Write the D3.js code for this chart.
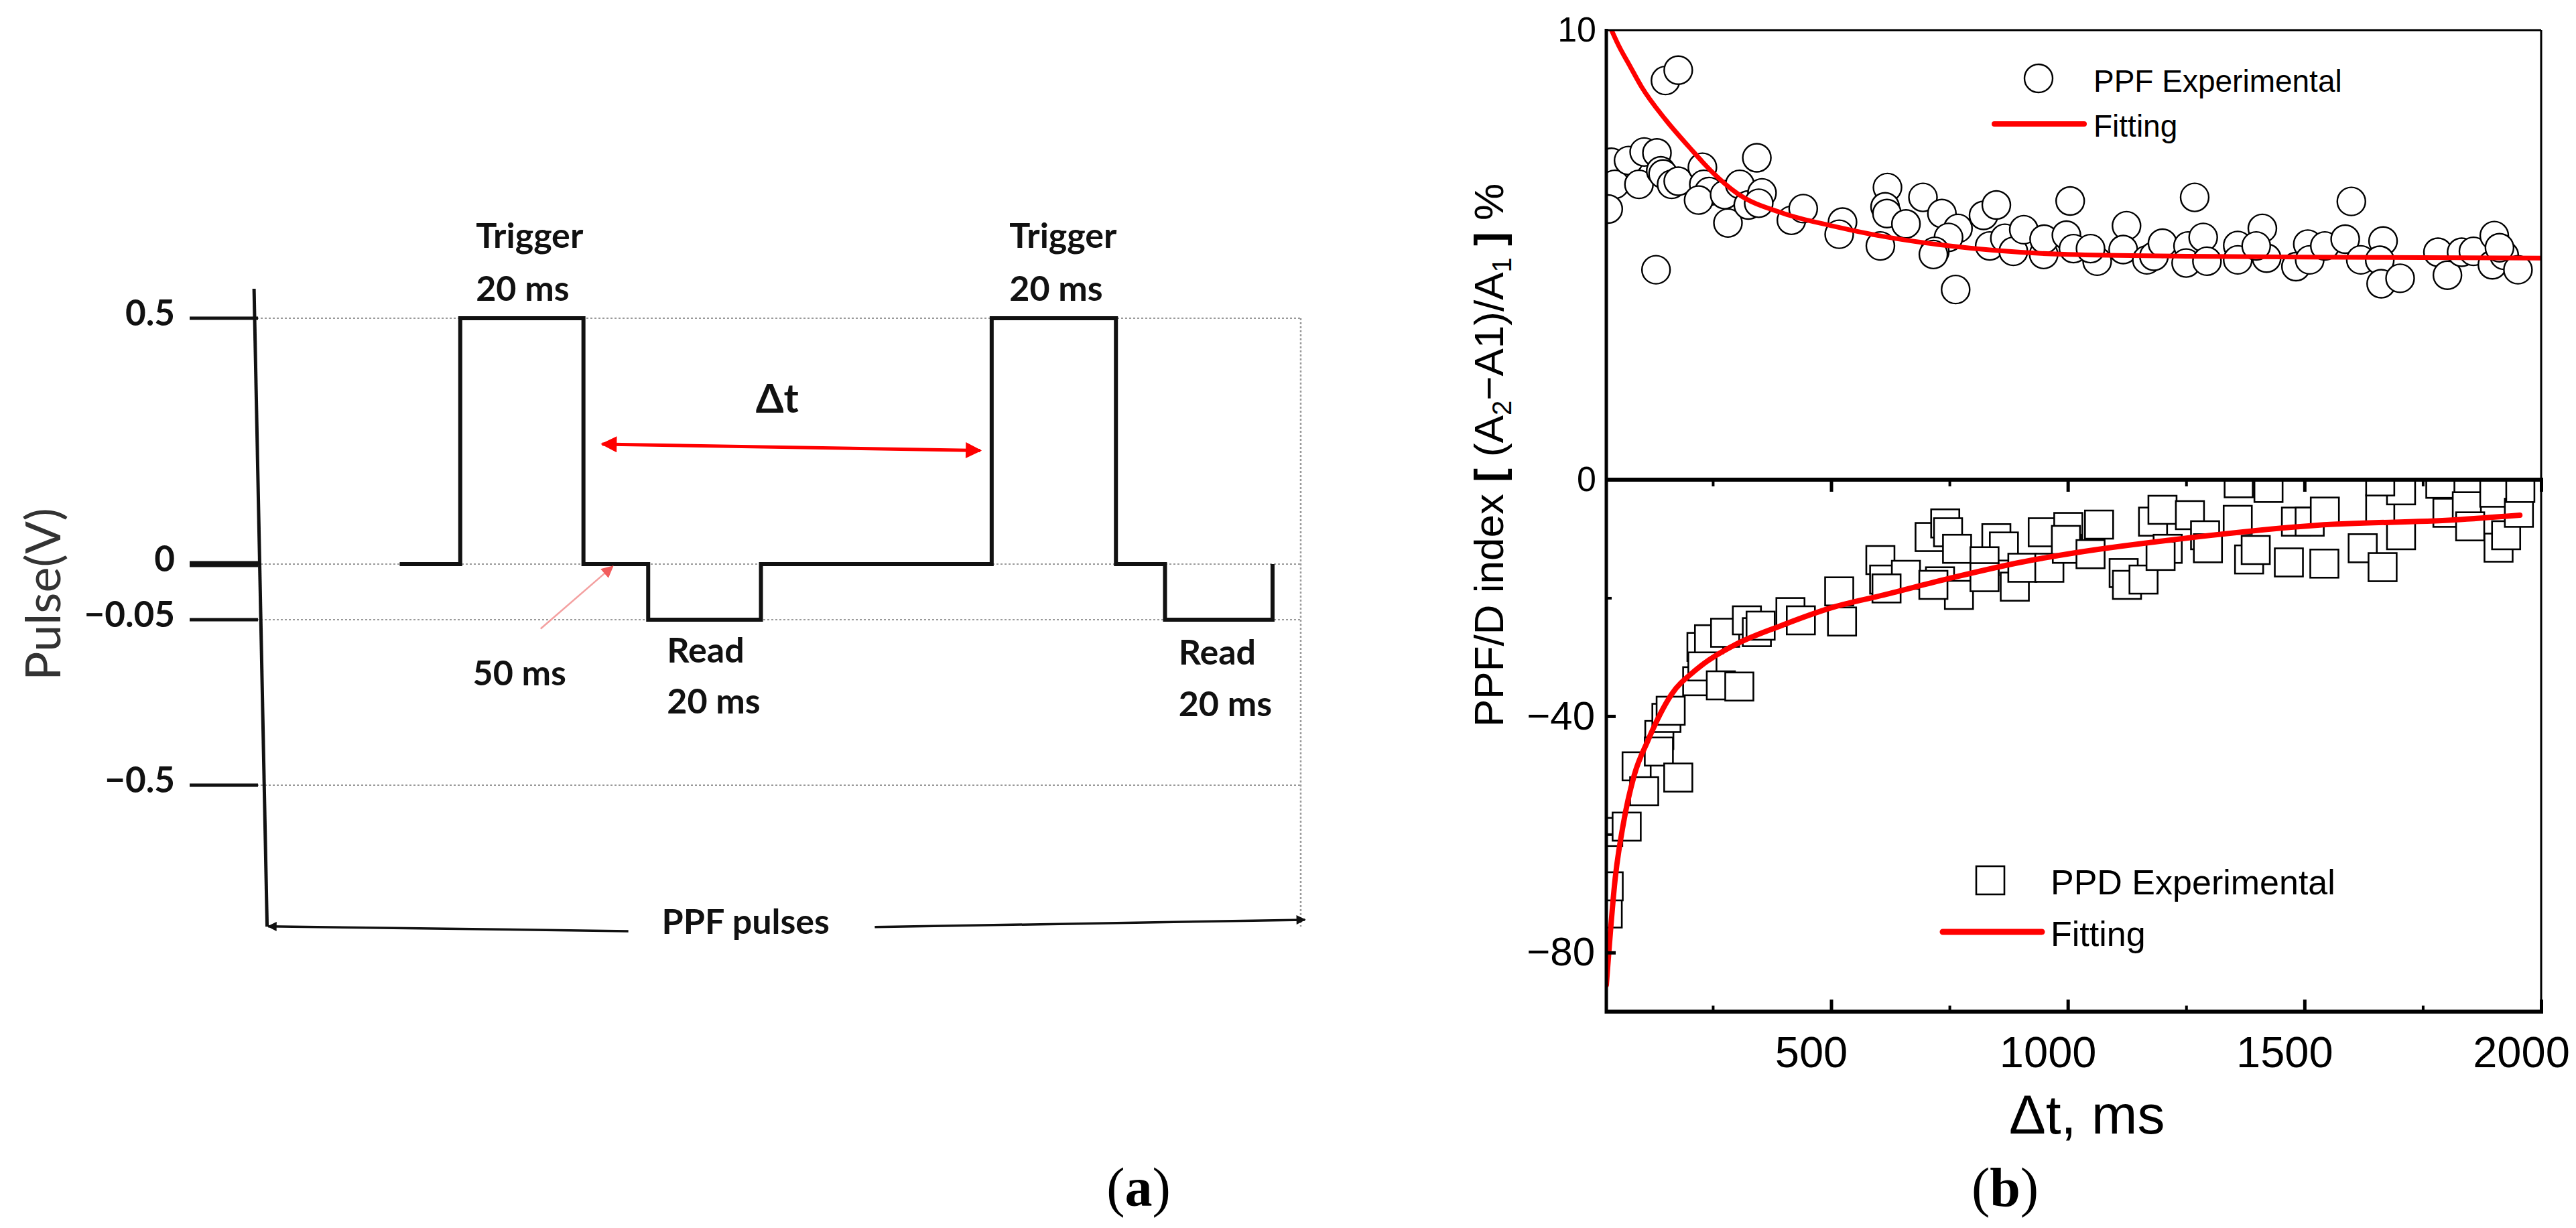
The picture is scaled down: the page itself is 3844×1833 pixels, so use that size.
<!DOCTYPE html>
<html>
<head>
<meta charset="utf-8">
<script src="https://cdn.jsdelivr.net/npm/d3@7.9.0/dist/d3.min.js"></script>
<style>
  html, body { margin: 0; padding: 0; background: #fff; }
  svg { display: block; }
</style>
</head>
<body>
<svg id="fig"></svg>
<script>
// ---- panel (a): schematic pulse train (schematic time units 0-100, volts) ----
const pulseT = [13.7, 19.5, 19.5, 31.3, 31.3, 37.5, 37.5, 48.3, 48.3, 70.4, 70.4, 82.3, 82.3, 87.0, 87.0, 97.3, 97.3];
const pulseV = [0, 0, 0.5, 0.5, 0, 0, -0.05, -0.05, 0, 0, 0.5, 0.5, 0, 0, -0.05, -0.05, 0];
const voltTicks = [0.5, 0, -0.05, -0.5];
const voltLabels = ['0.5', '0', '\u22120.05', '\u22120.5'];

// ---- panel (b): PPF (top) and PPD (bottom) index vs delta t ----
const ppfX = [36, 43, 29, 72, 94, 105, 132, 140, 145, 163, 177, 150, 177, 130, 228, 231, 242, 220, 275, 307,
  282, 325, 343, 354, 347, 416, 441, 524, 517, 619, 614, 618, 658, 604, 694, 734, 768, 748, 719, 716,
  763, 822, 849, 835, 867, 885, 907, 949, 950, 997, 1005, 1012, 1062, 1048, 1124, 1117, 1167, 1182, 1200, 1254,
  1268, 1286, 1250, 1294, 1359, 1359, 1411, 1420, 1398, 1482, 1507, 1511, 1543, 1586, 1599, 1619, 1666, 1659, 1662, 1702,
  1782, 1802, 1832, 1857, 1901, 1897, 1922, 1951, 1912];
const ppfY = [7.06, 6.57, 6.02, 7.10, 6.57, 7.29, 7.27, 6.87, 6.80, 6.57, 6.64, 8.88, 9.11, 4.67, 6.95, 6.57, 6.41, 6.22, 6.34, 6.57,
  5.71, 6.11, 7.16, 6.38, 6.15, 5.77, 6.03, 5.73, 5.46, 6.50, 6.07, 5.92, 5.69, 5.20, 6.28, 5.92, 5.59, 5.39, 5.08, 5.01,
  4.23, 5.88, 6.11, 5.20, 5.37, 5.08, 5.56, 5.01, 5.35, 5.44, 6.20, 5.14, 4.86, 5.14, 5.65, 5.12, 4.89, 4.97, 5.26, 5.20,
  6.28, 5.39, 4.82, 4.86, 5.21, 4.89, 5.59, 4.93, 5.20, 4.74, 5.24, 4.89, 5.20, 5.35, 6.19, 4.89, 5.31, 4.88, 4.36, 4.48,
  5.06, 4.55, 5.06, 5.08, 5.43, 4.78, 4.99, 4.67, 5.16];
const ppfFitX = [36, 50, 75, 100, 150, 200, 250, 300, 400, 500, 600, 750, 1000, 1250, 1500, 1750, 2000];
const ppfFitY = [10.0, 9.68, 9.2, 8.73, 8.01, 7.4, 6.83, 6.38, 5.92, 5.65, 5.43, 5.2, 5.01, 4.97, 4.95, 4.94, 4.93];

const ppdX = [28, 30, 29, 68, 89, 105, 137, 152, 161, 136, 177, 226, 242, 217, 228, 267, 306, 276, 322, 343,
  351, 414, 436, 517, 523, 604, 612, 658, 617, 708, 741, 747, 766, 730, 770, 716, 849, 865, 824, 824,
  888, 904, 947, 961, 1001, 998, 996, 1048, 1066, 1118, 1125, 1160, 1180, 1200, 1258, 1211, 1196, 1290, 1296, 1359,
  1361, 1424, 1383, 1397, 1467, 1542, 1482, 1511, 1543, 1623, 1665, 1660, 1704, 1704, 1660, 1787, 1802, 1843, 1850, 1901,
  1910, 1926, 1953, 1956];
const ppdY = [-73.4, -68.8, -59.6, -58.7, -48.5, -52.7, -43.2, -40.3, -39.1, -46.0, -50.4, -28.3, -27.0, -34.1, -31.6, -34.8, -35.0, -25.9, -23.8, -25.8,
  -24.7, -22.4, -23.8, -18.9, -24.0, -13.6, -16.9, -16.1, -18.4, -9.7, -7.4, -8.9, -11.7, -17.2, -19.5, -17.8, -9.9, -11.3, -13.8, -16.5,
  -18.1, -14.9, -8.9, -14.9, -8.0, -11.7, -10.2, -12.6, -7.6, -15.8, -17.8, -16.9, -7.1, -5.1, -6.0, -11.7, -12.9, -9.4, -11.6, -6.8,
  -0.6, -1.4, -13.5, -11.9, -14.0, -14.2, -7.1, -7.1, -5.4, -11.6, -14.8, -5.0, -9.4, -1.8, -0.3, -0.7, -5.6, -4.5, -7.9, -2.2,
  -11.5, -9.4, -5.6, -1.4];
const ppdFitX = [25, 44, 61, 84, 112, 163, 214, 293, 394, 503, 611, 755, 899, 1021, 1239, 1528, 1817, 1955];
const ppdFitY = [-85.5, -67.3, -58.2, -50.0, -44.3, -36.3, -32.2, -28.1, -24.7, -21.6, -19.5, -16.6, -14.0, -12.3, -10.0, -7.7, -6.8, -6.0];

const xMajor = [500, 1000, 1500, 2000];
const xMinor = [250, 750, 1250, 1750];
const topTicks = [10, 0];
const botTicks = [-40, -80];
const botMinor = [-20, -60];

const W = 3844, H = 1833;
const sansB = "'Liberation Sans', Arial, sans-serif";
const sansA = "Lato, 'Open Sans', sans-serif";
const serif = "'Liberation Serif', 'Times New Roman', serif";

const svg = d3.select('#fig').attr('width', W).attr('height', H);
svg.append('rect').attr('width', W).attr('height', H).attr('fill', '#fff');
const defs = svg.append('defs');

function arrowMarker(id, color, w, h) {
  defs.append('marker')
    .attr('id', id)
    .attr('viewBox', '0 0 10 10')
    .attr('refX', 9).attr('refY', 5)
    .attr('markerWidth', w).attr('markerHeight', h)
    .attr('markerUnits', 'userSpaceOnUse')
    .attr('orient', 'auto-start-reverse')
    .append('path').attr('d', 'M0,0L10,5L0,10Z').attr('fill', color);
}
arrowMarker('redHead', '#ff0000', 30, 24);
arrowMarker('pinkHead', '#f25c5c', 22, 18);
arrowMarker('blackHead', '#111', 22, 14);

// ================= panel (a) =================
const gA = svg.append('g');
const xA = d3.scaleLinear().domain([0, 100]).range([383, 1941]);
const yA = d3.scaleLinear().domain([0.5, 0, -0.05, -0.5]).range([475, 842, 925, 1172]);

// dotted guide lines
gA.selectAll('line.grid').data(voltTicks).join('line')
  .attr('class', 'grid')
  .attr('x1', xA(0)).attr('x2', xA(100))
  .attr('y1', d => yA(d)).attr('y2', d => yA(d))
  .attr('stroke', '#9a9a9a').attr('stroke-width', 2.2).attr('stroke-dasharray', '3 3');
gA.append('line')
  .attr('x1', xA(100)).attr('x2', xA(100))
  .attr('y1', yA(0.5)).attr('y2', yA(-0.885))
  .attr('stroke', '#9a9a9a').attr('stroke-width', 2.5).attr('stroke-dasharray', '3 3');

// vertical axis (slightly slanted as in the drawing)
gA.append('line')
  .attr('x1', xA(-0.25)).attr('y1', yA(0.56))
  .attr('x2', xA(1.0)).attr('y2', yA(-0.885))
  .attr('stroke', '#111').attr('stroke-width', 5);

// ticks + labels
gA.selectAll('line.tick').data(voltTicks).join('line')
  .attr('class', 'tick')
  .attr('x1', xA(0) - 100).attr('x2', xA(0) + 2)
  .attr('y1', d => yA(d)).attr('y2', d => yA(d))
  .attr('stroke', '#111').attr('stroke-width', d => d === 0 ? 9 : 5);
gA.selectAll('text.vlab').data(voltTicks).join('text')
  .attr('class', 'vlab')
  .attr('x', xA(0) - 122).attr('y', d => yA(d))
  .attr('dy', '0.2em')
  .attr('text-anchor', 'end')
  .attr('font-family', sansA).attr('font-weight', 700).attr('font-size', 53)
  .attr('fill', '#111')
  .text((d, i) => voltLabels[i]);

// waveform
const pulseLine = d3.line().x(d => xA(d[0])).y(d => yA(d[1]));
gA.append('path')
  .datum(d3.zip(pulseT, pulseV))
  .attr('d', pulseLine)
  .attr('fill', 'none').attr('stroke', '#111').attr('stroke-width', 6)
  .attr('stroke-linejoin', 'miter');

// annotations
const noteStyle = sel => sel.attr('font-family', sansA).attr('font-weight', 700).attr('font-size', 52).attr('fill', '#111');
[
  [21.0, 0.643, 'Trigger'], [21.0, 0.535, '20 ms'],
  [72.1, 0.643, 'Trigger'], [72.1, 0.535, '20 ms'],
  [39.3, -0.167, 'Read'], [39.3, -0.305, '20 ms'],
  [88.3, -0.172, 'Read'], [88.3, -0.312, '20 ms'],
  [20.7, -0.228, '50 ms'],
  [38.8, -0.905, 'PPF pulses']
].forEach(([t, v, s]) => {
  gA.append('text').attr('x', xA(t)).attr('y', yA(v)).text(s).call(noteStyle);
});
gA.append('text').attr('x', xA(47.8)).attr('y', yA(0.308)).text('\u0394t')
  .call(noteStyle).attr('font-size', 60);

// delta-t double arrow
gA.append('line')
  .attr('x1', xA(33.1)).attr('y1', yA(0.244))
  .attr('x2', xA(69.3)).attr('y2', yA(0.231))
  .attr('stroke', '#ff0000').attr('stroke-width', 5)
  .attr('marker-start', 'url(#redHead)').attr('marker-end', 'url(#redHead)');

// 50 ms pointer
gA.append('line')
  .attr('x1', xA(27.2)).attr('y1', yA(-0.0747))
  .attr('x2', xA(34.1)).attr('y2', yA(-0.002))
  .attr('stroke', '#f4a0a0').attr('stroke-width', 2.5)
  .attr('marker-end', 'url(#pinkHead)');

// PPF pulses span arrows
gA.append('line')
  .attr('x1', xA(35.6)).attr('y1', yA(-0.897))
  .attr('x2', xA(1.1)).attr('y2', yA(-0.884))
  .attr('stroke', '#111').attr('stroke-width', 3.5)
  .attr('marker-end', 'url(#blackHead)');
gA.append('line')
  .attr('x1', xA(59.2)).attr('y1', yA(-0.886))
  .attr('x2', xA(100.4)).attr('y2', yA(-0.866))
  .attr('stroke', '#111').attr('stroke-width', 3.5)
  .attr('marker-end', 'url(#blackHead)');

// y title
gA.append('text')
  .attr('transform', 'translate(90,887) rotate(-90)')
  .attr('text-anchor', 'middle')
  .attr('font-family', sansA).attr('font-size', 72).attr('fill', '#333')
  .text('Pulse(V)');

// ================= panel (b) =================
const gB = svg.append('g');
const xB = d3.scaleLinear().domain([25, 2000]).range([2397, 3792]);
const yTop = d3.scaleLinear().domain([0, 10]).range([716, 45]);
const yBot = d3.scaleLinear().domain([-90, 0]).range([1510, 716]);
const [left, right] = xB.range();

defs.append('clipPath').attr('id', 'clipTop').append('rect')
  .attr('x', left).attr('y', yTop(10)).attr('width', right - left).attr('height', yTop(0) - yTop(10));
defs.append('clipPath').attr('id', 'clipBot').append('rect')
  .attr('x', left).attr('y', yBot(0)).attr('width', right - left).attr('height', yBot(-90) - yBot(0));

// PPF circles
const gTop = gB.append('g').attr('clip-path', 'url(#clipTop)');
gTop.selectAll('circle').data(d3.zip(ppfX, ppfY)).join('circle')
  .attr('cx', d => xB(d[0])).attr('cy', d => yTop(d[1])).attr('r', 21)
  .attr('fill', '#fff').attr('stroke', '#000').attr('stroke-width', 2.4);
gTop.append('path')
  .datum(d3.zip(ppfFitX, ppfFitY))
  .attr('d', d3.line().x(d => xB(d[0])).y(d => yTop(d[1])).curve(d3.curveMonotoneX))
  .attr('fill', 'none').attr('stroke', '#ff0000').attr('stroke-width', 7).attr('stroke-linecap', 'round');

// PPD squares
const gBot = gB.append('g').attr('clip-path', 'url(#clipBot)');
gBot.selectAll('rect').data(d3.zip(ppdX, ppdY)).join('rect')
  .attr('x', d => xB(d[0]) - 21).attr('y', d => yBot(d[1]) - 21)
  .attr('width', 42).attr('height', 42)
  .attr('fill', '#fff').attr('stroke', '#000').attr('stroke-width', 2.6);
gBot.append('path')
  .datum(d3.zip(ppdFitX, ppdFitY))
  .attr('d', d3.line().x(d => xB(d[0])).y(d => yBot(d[1])).curve(d3.curveMonotoneX))
  .attr('fill', 'none').attr('stroke', '#ff0000').attr('stroke-width', 8).attr('stroke-linecap', 'round');

// frame lines
const frame = [
  [left, yTop(10), right, yTop(10), 3],
  [right, yTop(10), right, yBot(-90), 3],
  [left, yTop(10) - 2, left, yBot(-90) + 3, 5],
  [left - 2, yTop(0), right + 3, yTop(0), 6],
  [left - 2, yBot(-90), right + 3, yBot(-90), 6]
];
gB.selectAll('line.frame').data(frame).join('line')
  .attr('class', 'frame')
  .attr('x1', d => d[0]).attr('y1', d => d[1]).attr('x2', d => d[2]).attr('y2', d => d[3])
  .attr('stroke', '#000').attr('stroke-width', d => d[4]);

function ticksOnly(axis, w) {
  return g => {
    g.call(axis.tickFormat('').tickSizeOuter(0));
    g.select('.domain').remove();
    g.selectAll('.tick line').attr('stroke', '#000').attr('stroke-width', w);
  };
}
// ticks hanging from the zero line into the lower panel
gB.append('g').attr('transform', `translate(0,${yTop(0)})`)
  .call(ticksOnly(d3.axisBottom(xB).tickValues(xMajor).tickSize(18), 5));
gB.append('g').attr('transform', `translate(0,${yTop(0)})`)
  .call(ticksOnly(d3.axisBottom(xB).tickValues(xMinor).tickSize(10), 4));
// bottom axis ticks pointing inward
gB.append('g').attr('transform', `translate(0,${yBot(-90)})`)
  .call(ticksOnly(d3.axisTop(xB).tickValues(xMajor).tickSize(18), 5));
gB.append('g').attr('transform', `translate(0,${yBot(-90)})`)
  .call(ticksOnly(d3.axisTop(xB).tickValues(xMinor).tickSize(9), 4));
// left ticks of the lower panel
gB.append('g').attr('transform', `translate(${left},0)`)
  .call(ticksOnly(d3.axisRight(yBot).tickValues(botTicks).tickSize(14), 5));
gB.append('g').attr('transform', `translate(${left},0)`)
  .call(ticksOnly(d3.axisRight(yBot).tickValues(botMinor).tickSize(8), 4));

function labelsOnly(axis, size) {
  return g => {
    g.call(axis.tickSize(0));
    g.select('.domain').remove();
    g.attr('font-family', sansB).attr('font-size', size);
    g.selectAll('.tick text').attr('fill', '#000');
  };
}
gB.append('g').attr('transform', `translate(0,${yBot(-90)})`)
  .call(labelsOnly(d3.axisBottom(xB).tickValues(xMajor).tickFormat(d3.format('d')).tickPadding(37), 65))
  .selectAll('.tick text').attr('dx', -30);
gB.append('g').attr('transform', `translate(${left},0)`)
  .call(labelsOnly(d3.axisLeft(yTop).tickValues(topTicks).tickPadding(15), 52));
gB.append('g').attr('transform', `translate(${left},0)`)
  .call(labelsOnly(d3.axisLeft(yBot).tickValues(botTicks).tickPadding(17), 60));

// axis titles
gB.append('text')
  .attr('x', 2998).attr('y', yBot(-90) + 182)
  .attr('font-family', sansB).attr('font-size', 82).attr('fill', '#000')
  .text('\u0394t, ms');

const yTitle = gB.append('text')
  .attr('transform', `translate(2243,${(yTop(10) + yBot(-90)) / 2 - 98}) rotate(-90)`)
  .attr('text-anchor', 'middle')
  .attr('font-family', sansB).attr('font-size', 62).attr('fill', '#000');
yTitle.append('tspan').text('PPF/D index ');
yTitle.append('tspan').attr('font-weight', 700).text('[');
yTitle.append('tspan').text(' (A');
yTitle.append('tspan').attr('font-size', 40).attr('dy', 12).text('2');
yTitle.append('tspan').attr('dy', -12).text('\u2212A1)/A');
yTitle.append('tspan').attr('font-size', 40).attr('dy', 12).text('1');
yTitle.append('tspan').attr('dy', -12).text(' ');
yTitle.append('tspan').attr('font-weight', 700).text(']');
yTitle.append('tspan').text(' %');

// legends
const legTop = gB.append('g').attr('transform', `translate(${left},${yTop(10)})`);
legTop.append('circle').attr('cx', 645).attr('cy', 72).attr('r', 21)
  .attr('fill', '#fff').attr('stroke', '#000').attr('stroke-width', 2.4);
legTop.append('line').attr('x1', 579).attr('x2', 713).attr('y1', 140).attr('y2', 140)
  .attr('stroke', '#ff0000').attr('stroke-width', 8).attr('stroke-linecap', 'round');
legTop.append('text').attr('x', 727).attr('y', 92)
  .attr('font-family', sansB).attr('font-size', 46).text('PPF Experimental');
legTop.append('text').attr('x', 727).attr('y', 159)
  .attr('font-family', sansB).attr('font-size', 46).text('Fitting');

const legBot = gB.append('g').attr('transform', `translate(${left},${yBot(-90)})`);
legBot.append('rect').attr('x', 552).attr('y', -217).attr('width', 42).attr('height', 42)
  .attr('fill', '#fff').attr('stroke', '#000').attr('stroke-width', 2.6);
legBot.append('line').attr('x1', 502).attr('x2', 650).attr('y1', -119).attr('y2', -119)
  .attr('stroke', '#ff0000').attr('stroke-width', 9).attr('stroke-linecap', 'round');
legBot.append('text').attr('x', 663).attr('y', -175)
  .attr('font-family', sansB).attr('font-size', 52).text('PPD Experimental');
legBot.append('text').attr('x', 663).attr('y', -98)
  .attr('font-family', sansB).attr('font-size', 52).text('Fitting');

// ================= captions =================
[[1699, 'a'], [2992, 'b']].forEach(([cx, letter]) => {
  const t = svg.append('text')
    .attr('x', cx).attr('y', 1800)
    .attr('text-anchor', 'middle')
    .attr('font-family', serif).attr('font-size', 82).attr('fill', '#000');
  t.append('tspan').text('(');
  t.append('tspan').attr('font-weight', 700).text(letter);
  t.append('tspan').text(')');
});
</script>
</body>
</html>
